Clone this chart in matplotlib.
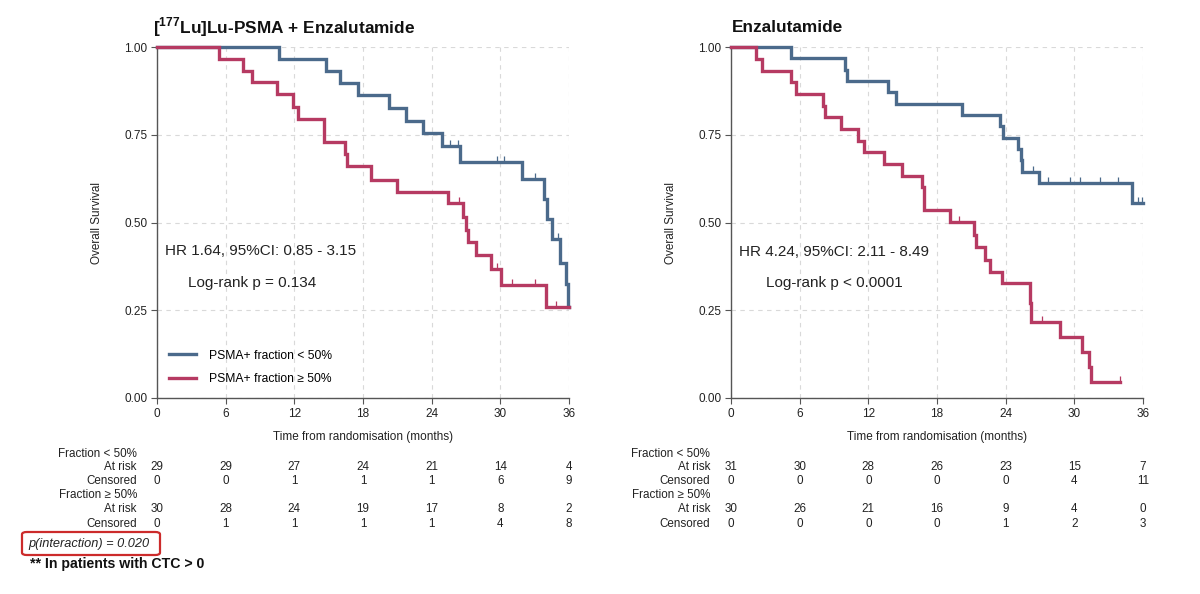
import matplotlib
matplotlib.use('Agg')
import matplotlib.pyplot as plt
import matplotlib.transforms as mtransforms
from matplotlib.path import Path
from matplotlib.patches import FancyBboxPatch
import numpy as np

plt.rcParams['font.family'] = ['Liberation Sans', 'DejaVu Sans']
plt.rcParams['mathtext.fontset'] = 'custom'
plt.rcParams['mathtext.rm'] = 'Liberation Sans'
plt.rcParams['mathtext.bf'] = 'Liberation Sans:bold'

# ---------------- data ----------------
titles = [r"[$^{\mathbf{177}}$Lu]Lu-PSMA + Enzalutamide", "Enzalutamide"]
legend_labels = ["PSMA+ fraction < 50%", "PSMA+ fraction \u2265 50%"]
hr_texts = ["HR 1.64, 95%CI: 0.85 - 3.15", "HR 4.24, 95%CI: 2.11 - 8.49"]
p_texts = ["Log-rank p = 0.134", "Log-rank p < 0.0001"]
x_ticks = [0, 6, 12, 18, 24, 30, 36]
y_ticks = [0.0, 0.25, 0.5, 0.75, 1.0]
y_ticklabels = ["0.00", "0.25", "0.50", "0.75", "1.00"]

# Left panel, fraction < 50%
L_lo_t = [0, 10.7, 14.8, 16.0, 17.6, 20.3, 21.8, 23.2, 24.9, 26.5, 31.9, 33.8, 34.1, 34.5, 35.2, 35.7, 35.95]
L_lo_s = [1.0, 0.966, 0.931, 0.897, 0.862, 0.826, 0.790, 0.755, 0.718, 0.673, 0.623, 0.566, 0.509, 0.452, 0.385, 0.325, 0.258]
L_lo_end = 36.0
L_lo_cens = [25.6, 26.3, 29.7, 30.3, 33.0, 35.0]

# Left panel, fraction >= 50%
L_hi_t = [0, 5.4, 7.5, 8.3, 10.5, 11.9, 12.3, 14.6, 16.4, 16.6, 18.7, 21.0, 25.4, 26.7, 27.0, 27.2, 27.9, 29.2, 30.1, 34.0]
L_hi_s = [1.0, 0.967, 0.933, 0.900, 0.865, 0.830, 0.796, 0.728, 0.694, 0.660, 0.622, 0.587, 0.555, 0.517, 0.480, 0.445, 0.407, 0.367, 0.322, 0.258]
L_hi_end = 36.0
L_hi_cens = [26.4, 29.7, 31.0, 33.0, 34.9]

# Right panel, fraction < 50%
R_lo_t = [0, 5.2, 10.0, 10.1, 13.75, 14.4, 20.2, 23.5, 23.75, 25.06, 25.3, 25.4, 26.9, 35.0]
R_lo_s = [1.0, 0.968, 0.935, 0.903, 0.871, 0.839, 0.806, 0.774, 0.742, 0.710, 0.677, 0.645, 0.613, 0.556]
R_lo_end = 36.0
R_lo_cens = [26.4, 27.7, 29.6, 30.5, 32.2, 33.8, 35.6, 35.9]

# Right panel, fraction >= 50%
R_hi_t = [0, 2.2, 2.7, 5.25, 5.7, 8.0, 8.2, 9.6, 11.1, 11.6, 13.4, 14.9, 16.7, 16.9, 19.1, 21.2, 21.4, 22.2, 22.6, 23.7, 26.1, 26.2, 28.75, 30.7, 31.3, 31.5]
R_hi_s = [1.0, 0.967, 0.933, 0.900, 0.867, 0.833, 0.800, 0.767, 0.733, 0.700, 0.667, 0.633, 0.600, 0.536, 0.502, 0.464, 0.431, 0.393, 0.360, 0.327, 0.270, 0.217, 0.173, 0.132, 0.089, 0.045]
R_hi_end = 34.0
R_hi_cens = [19.9, 27.2, 34.0]

# Numbers at risk tables
table_labels = ["Fraction < 50%", "At risk", "Censored", "Fraction \u2265 50%", "At risk", "Censored"]
L_lo_risk = [29, 29, 27, 24, 21, 14, 4]
L_lo_cen = [0, 0, 1, 1, 1, 6, 9]
L_hi_risk = [30, 28, 24, 19, 17, 8, 2]
L_hi_cen = [0, 1, 1, 1, 1, 4, 8]
R_lo_risk = [31, 30, 28, 26, 23, 15, 7]
R_lo_cen = [0, 0, 0, 0, 0, 4, 11]
R_hi_risk = [30, 26, 21, 16, 9, 4, 0]
R_hi_cen = [0, 0, 0, 0, 1, 2, 3]

interaction_text = "p(interaction) = 0.020"
footnote_text = "** In patients with CTC > 0"

# ---------------- style ----------------
BLUE = "#4b6a8b"
RED = "#b63a62"
TXT = "#222222"
SPINE = "#555555"

W, H = 1200, 594
fig = plt.figure(figsize=(12, 5.94), dpi=100)

def fx(px):
    return px / W

def fy(py):
    return 1 - py / H

tick_marker = Path([(0, 0), (0, 1)], [Path.MOVETO, Path.LINETO])

def km(ax, times, surv, end, cens, color, label):
    t = list(times) + [end]
    s = list(surv) + [surv[-1]]
    ax.step(t, s, where='post', color=color, lw=2.4, clip_on=False,
            solid_joinstyle='miter', label=label, zorder=3)
    times_arr = np.asarray(times)
    cs = [surv[int(np.searchsorted(times_arr, c, side='right')) - 1] for c in cens]
    ax.plot(cens, cs, linestyle='none', marker=tick_marker, markersize=9,
            markeredgewidth=0.9, color=color, clip_on=False, zorder=4)

axes_left_px = [157, 731]
panels = [
    (L_lo_t, L_lo_s, L_lo_end, L_lo_cens, L_hi_t, L_hi_s, L_hi_end, L_hi_cens,
     [L_lo_risk, L_lo_cen, L_hi_risk, L_hi_cen]),
    (R_lo_t, R_lo_s, R_lo_end, R_lo_cens, R_hi_t, R_hi_s, R_hi_end, R_hi_cens,
     [R_lo_risk, R_lo_cen, R_hi_risk, R_hi_cen]),
]
hr_pos = [(0.019, 0.419, 0.075, 0.328), (0.019, 0.416, 0.085, 0.328)]
label_right_px = [137, 710]
row_y_px = [454, 467, 481, 495, 509, 524]
title_x_px = [153, 732]

for i, (lt, ls, le, lc, ht, hs, he, hc, tab) in enumerate(panels):
    ax = fig.add_axes([fx(axes_left_px[i]), fy(398), fx(412), 351 / H])
    ax.set_xlim(0, 36)
    ax.set_ylim(0, 1)
    ax.set_xticks(x_ticks)
    ax.set_yticks(y_ticks)
    ax.set_yticklabels(y_ticklabels)
    ax.grid(True, linestyle=(0, (4, 4)), color="#d9d9d9", lw=0.8)
    ax.set_axisbelow(True)
    for sp in ['top', 'right']:
        ax.spines[sp].set_visible(False)
    for sp in ['left', 'bottom']:
        ax.spines[sp].set_color(SPINE)
        ax.spines[sp].set_linewidth(1.0)
    ax.tick_params(axis='both', direction='out', length=4, width=0.8,
                   colors=SPINE, labelcolor=TXT, labelsize=8.5, pad=3)

    km(ax, lt, ls, le, lc, BLUE, legend_labels[0])
    km(ax, ht, hs, he, hc, RED, legend_labels[1])

    ax.set_ylabel("Overall Survival", fontsize=8.5, color=TXT)
    ax.yaxis.set_label_coords(-0.131, 0.5)
    ax.set_xlabel("Time from randomisation (months)", fontsize=8.5, color=TXT)
    ax.xaxis.set_label_coords(0.5, -0.094)

    hx, hy, px_, py_ = hr_pos[i]
    ax.text(hx, hy, hr_texts[i], transform=ax.transAxes, fontsize=11,
            color=TXT, ha='left', va='center')
    ax.text(px_, py_, p_texts[i], transform=ax.transAxes, fontsize=11,
            color=TXT, ha='left', va='center')

    if i == 0:
        ax.legend(loc='upper left', bbox_to_anchor=(0.028, 0.138), frameon=False,
                  fontsize=8.7, handlelength=2.3, handletextpad=1.05,
                  labelspacing=0.95, borderpad=0, borderaxespad=0)

    fig.text(fx(title_x_px[i]), fy(27), titles[i], fontsize=12.4,
             fontweight='bold', color="#111111", ha='left', va='center')

    # risk table
    trans = mtransforms.blended_transform_factory(ax.transData, fig.transFigure)
    for r, lab in enumerate(table_labels):
        fig.text(fx(label_right_px[i]), fy(row_y_px[r]), lab, fontsize=8.4,
                 color=TXT, ha='right', va='center')
    value_rows = {1: tab[0], 2: tab[1], 4: tab[2], 5: tab[3]}
    for r, vals in value_rows.items():
        for xt, v in zip(x_ticks, vals):
            fig.text(xt, fy(row_y_px[r]), str(v), transform=trans, fontsize=8.4,
                     color=TXT, ha='center', va='center')

# interaction box
box = FancyBboxPatch((fx(22), fy(555)), fx(138), (555 - 532) / H,
                     boxstyle="round,pad=0,rounding_size=0.004",
                     transform=fig.transFigure, fill=False,
                     edgecolor="#cc2b2b", lw=1.6)
fig.patches.append(box)
fig.text(fx(28), fy(543.5), interaction_text, fontsize=9.2, style='italic',
         color=TXT, ha='left', va='center')
fig.text(fx(30), fy(564), footnote_text, fontsize=10.2, fontweight='bold',
         color="#111111", ha='left', va='center')

fig.savefig("out.png", dpi=100)
